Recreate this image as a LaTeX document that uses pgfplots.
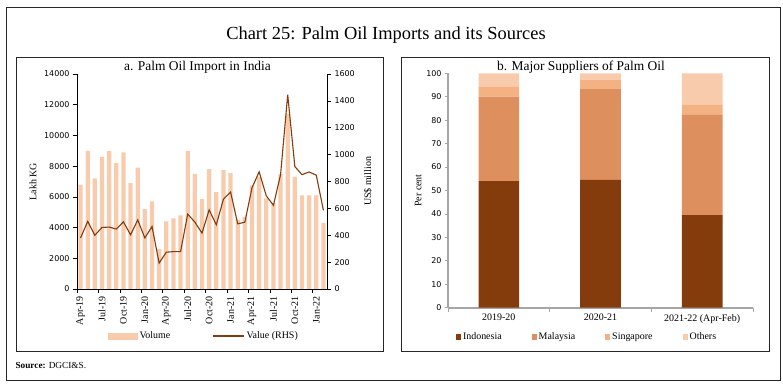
\documentclass[border=0pt]{standalone}
\usepackage{fontspec}
\setmainfont{Liberation Serif}
\newfontfamily\tickfont{DejaVu Sans}
\usepackage{pgfplots}
\pgfplotsset{compat=1.18}
\definecolor{peach}{HTML}{F8CBAD}
\definecolor{dbrown}{HTML}{843C0C}
\definecolor{malay}{HTML}{DE8F5E}
\definecolor{sing}{HTML}{F4B183}
\definecolor{oth}{HTML}{F8CBAD}
\definecolor{axgray}{HTML}{A6A6A6}
\newcommand{\sm}{\fontsize{10}{11}\selectfont}
\newcommand{\tk}{\tickfont\fontsize{8}{9}\selectfont}
\begin{document}
\begin{tikzpicture}
\draw[line width=0.8bp, black!85] (6bp,4bp) rectangle (780bp,377bp);
\draw[line width=0.8bp, black!85] (16.5bp,32.3bp) rectangle (383bp,326.5bp);
\draw[line width=0.8bp, black!85] (401.5bp,32.3bp) rectangle (769.5bp,326.5bp);
\node at (386bp,349bp) {\fontsize{18.5}{21}\selectfont Chart 25: Palm Oil Imports and its Sources};
\node at (197.5bp,316.5bp) {\fontsize{13.5}{15}\selectfont a. Palm Oil Import in India};
\node at (581bp,316.5bp) {\fontsize{13.5}{15}\selectfont b. Major Suppliers of Palm Oil};
\node[anchor=west] at (12bp,19bp) {\fontsize{9.3}{11}\selectfont\textbf{Source:} DGCI\&S.};

% Left panel: volume bars
\begin{axis}[
  at={(77bp,95bp)}, anchor=south west, scale only axis, width=250bp, height=215bp,
  xmin=0.5, xmax=35.5, ymin=0, ymax=14000,
  axis x line*=bottom, axis y line*=left,
  axis line style={-, black, line width=0.6bp},
  ytick={0,2000,...,14000}, scaled y ticks=false,
  xtick={1,4,...,34},
  xticklabels={Apr-19,Jul-19,Oct-19,Jan-20,Apr-20,Jul-20,Oct-20,Jan-21,Apr-21,Jul-21,Oct-21,Jan-22},
  minor xtick={0.5,3.5,...,33.5},
  tick align=outside, major tick length=4bp, minor tick length=4bp,
  major x tick style={draw=none},
  minor x tick style={black, line width=0.6bp},
  ytick style={black, line width=0.6bp},
  xticklabel style={rotate=90, anchor=east, font=\sm},
  yticklabel style={font=\tk},
  /pgf/number format/.cd, 1000 sep={}, assume math mode=true, /pgfplots/.cd,
  ylabel={Lakh KG},
  ylabel style={at={(axis description cs:-0.176,0.5)}, anchor=center, font=\sm},
]
\addplot[ybar, bar width=0.6, fill=peach, draw=none] coordinates {
(1,6800) (2,9000) (3,7200) (4,8600) (5,9000) (6,8200) (7,8900) (8,6900) (9,7900) (10,5200)
(11,5700) (12,2600) (13,4400) (14,4600) (15,4800) (16,9000) (17,7500) (18,5850) (19,7800) (20,6300)
(21,7750) (22,7550) (23,4500) (24,4700) (25,6750) (26,7300) (27,5900) (28,5600) (29,7500) (30,11400)
(31,7300) (32,6100) (33,6100) (34,6100) (35,4300)};
\end{axis}

% Left panel: value line (RHS)
\begin{axis}[
  at={(77bp,95bp)}, anchor=south west, scale only axis, width=250bp, height=215bp,
  xmin=0.5, xmax=35.5, ymin=0, ymax=1600,
  axis x line=none, axis y line*=right,
  axis line style={-, black, line width=0.6bp},
  ytick={0,200,...,1600}, scaled y ticks=false,
  tick align=outside, major tick length=4bp,
  ytick style={black, line width=0.6bp},
  yticklabel style={font=\tk},
  /pgf/number format/.cd, 1000 sep={}, assume math mode=true, /pgfplots/.cd,
  ylabel={US\$ million},
  ylabel style={at={(axis description cs:1.164,0.5)}, anchor=center, font=\sm},
  legend columns=2,
  legend style={at={(axis description cs:0.508,-0.219)}, anchor=center, draw=none, fill=none,
    font=\sm, /tikz/every even column/.append style={column sep=40bp}},
]
\addlegendimage{legend image code/.code={\fill[peach] (0bp,-3bp) rectangle (29bp,3bp);}}
\addlegendentry{Volume}
\addlegendimage{legend image code/.code={\draw[dbrown,line width=1.3bp] (0bp,0bp) -- (31bp,0bp);}}
\addlegendentry{Value (RHS)}
\addplot[dbrown, line width=1.1bp, mark=none, forget plot] coordinates {
(1,380) (2,503) (3,400) (4,458) (5,461) (6,446) (7,500) (8,403) (9,514) (10,380)
(11,465) (12,193) (13,274) (14,278) (15,278) (16,557) (17,498) (18,416) (19,589) (20,478)
(21,668) (22,722) (23,485) (24,497) (25,753) (26,872) (27,693) (28,623) (29,851) (30,1446)
(31,911) (32,851) (33,871) (34,847) (35,585)};
\end{axis}

% Right panel: stacked bars
\begin{axis}[
  at={(448bp,76.3bp)}, anchor=south west, scale only axis, width=305bp, height=234.4bp,
  ybar stacked, bar width=0.4,
  xmin=-0.5, xmax=2.5, ymin=0, ymax=100,
  axis x line*=bottom, axis y line*=left,
  axis line style={-, axgray, line width=1.6bp},
  xtick={0,1,2}, xticklabels={2019-20,2020-21,2021-22 (Apr-Feb)},
  major x tick style={draw=none},
  minor xtick={-0.5,0.5,1.5,2.5},
  minor x tick style={axgray, line width=0.8bp},
  ytick={0,10,...,100},
  ytick style={axgray, line width=0.8bp},
  tick align=outside, major tick length=3bp, minor tick length=4bp,
  xticklabel style={font=\sm},
  yticklabel style={font=\tk},
  /pgf/number format/.cd, assume math mode=true, /pgfplots/.cd,
  ylabel={Per cent},
  ylabel style={at={(axis description cs:-0.098,0.5)}, anchor=center, font=\sm},
  legend columns=4,
  legend image code/.code={\fill[#1] (0bp,-2.5bp) rectangle (5bp,2.5bp);},
  legend style={at={(axis description cs:0.456,-0.125)}, anchor=center, draw=none, fill=none,
    font=\sm, /tikz/every even column/.append style={column sep=28bp}},
]
\addplot[fill=dbrown, draw=none] coordinates {(0,54.0) (1,54.5) (2,39.5)};
\addlegendentry{Indonesia}
\addplot[fill=malay, draw=none] coordinates {(0,36.0) (1,38.7) (2,43.0)};
\addlegendentry{Malaysia}
\addplot[fill=sing, draw=none] coordinates {(0,4.2) (1,3.9) (2,4.0)};
\addlegendentry{Singapore}
\addplot[fill=oth, draw=none] coordinates {(0,5.8) (1,2.9) (2,13.5)};
\addlegendentry{Others}
\end{axis}
\pgfresetboundingbox
\path[use as bounding box] (0bp,0bp) rectangle (783bp,384bp);
\end{tikzpicture}
\end{document}
